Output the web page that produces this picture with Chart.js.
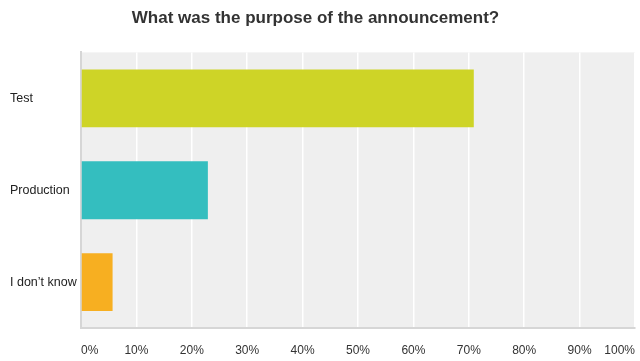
<!DOCTYPE html>
<html>
<head>
<meta charset="utf-8">
<script src="https://cdn.jsdelivr.net/npm/chart.js@4/dist/chart.umd.min.js"></script>
<style>
html,body{margin:0;padding:0;background:#fff;}
#wrap{width:640px;height:361px;position:relative;}
</style>
</head>
<body>
<div id="wrap"><canvas id="c"></canvas></div>
<script>
const categories = ["Test", "Production", "I don\u2019t know"];
const values = [70.9, 22.9, 5.7];
const barColors = ["#ced427", "#34bebf", "#f7af21"];
const tickValues = [0,10,20,30,40,50,60,70,80,90,100];
const titleText = "What was the purpose of the announcement?";

const bgPlugin = {
  id: 'bg',
  afterLayout(chart) {
    if (chart.titleBlock) {
      chart.titleBlock.left -= 7;
      chart.titleBlock.right -= 7;
    }
  },
  beforeDraw(chart) {
    const {ctx, chartArea: a} = chart;
    ctx.save();
    ctx.fillStyle = '#efefef';
    ctx.fillRect(a.left, a.top, a.right - a.left, a.bottom - a.top);
    ctx.restore();
  }
};

new Chart(document.getElementById('c'), {
  type: 'bar',
  data: {
    labels: categories,
    datasets: [{
      data: values,
      backgroundColor: barColors,
      borderWidth: 0,
      barPercentage: 0.63,
      categoryPercentage: 1.0
    }]
  },
  options: {
    indexAxis: 'y',
    responsive: true,
    maintainAspectRatio: false,
    animation: false,
    layout: { padding: { left: 10, right: 5, top: 0, bottom: 0 } },
    plugins: {
      legend: { display: false },
      tooltip: { enabled: false },
      title: {
        display: true,
        text: titleText,
        color: '#333',
        font: { family: 'Liberation Sans, Arial, sans-serif', size: 17, weight: 'bold' },
        padding: { top: 8, bottom: 24 }
      }
    },
    scales: {
      x: {
        min: 0, max: 100,
        afterFit(s) { s.height = 33; s.paddingLeft = 0; s.paddingRight = 0; },
        afterBuildTicks(s) { s.ticks = tickValues.map(v => ({ value: v })); },
        grid: { color: '#ffffff', lineWidth: 1.5, drawTicks: false },
        border: { color: '#d6d6d6', width: 2 },
        ticks: {
          align: 'inner',
          padding: 15,
          color: '#333',
          font: { family: 'Liberation Sans, Arial, sans-serif', size: 12 },
          callback: v => v + '%'
        }
      },
      y: {
        afterFit(s) { s.width = 71; s.paddingTop = 0; s.paddingBottom = 0; },
        grid: { display: false, drawTicks: false },
        border: { color: '#d6d6d6', width: 2 },
        ticks: {
          crossAlign: 'far',
          color: '#222',
          font: { family: 'Liberation Sans, Arial, sans-serif', size: 12.5 }
        }
      }
    }
  },
  plugins: [bgPlugin]
});
</script>
</body>
</html>
